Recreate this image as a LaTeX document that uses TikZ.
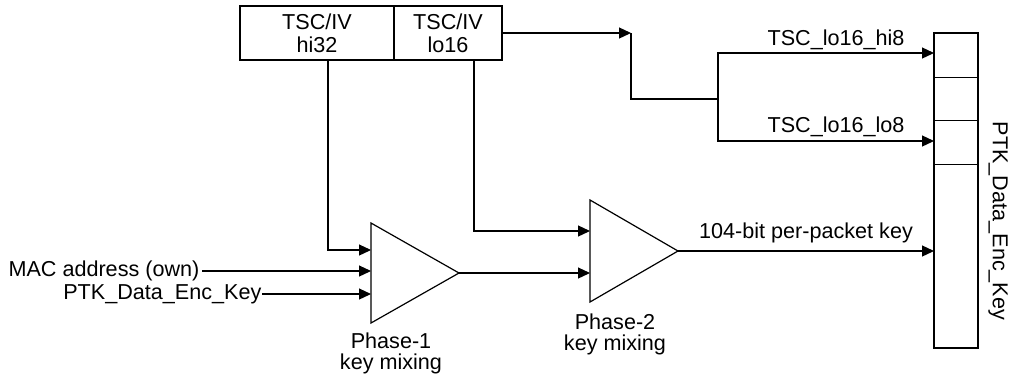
\documentclass[tikz,border=0pt]{standalone}
\usepackage{fontspec}
\setmainfont{Liberation Sans}
\usetikzlibrary{arrows.meta,calc}
\begin{document}
\begin{tikzpicture}[x=1pt,y=-1pt,
  line width=1.2pt,
  arr/.style={-{Triangle[length=12pt,width=11pt]}},
  box/.style={draw,rectangle,inner sep=0pt,outer sep=0pt,align=center},
  lbl/.style={inner sep=0pt,font=\fontsize{21.6}{23}\selectfont},
  hid/.style={inner sep=0pt,outer sep=0pt}]
\useasboundingbox (0,0) rectangle (1016,376);
% top box
\node[box,minimum width=154pt,minimum height=54pt,font=\fontsize{21.6}{23}\selectfont] (hi) at (317,33) {TSC/IV\\hi32};
\node[box,minimum width=108pt,minimum height=54pt,font=\fontsize{21.6}{23}\selectfont] (lo) at (448,33) {TSC/IV\\lo16};
% key box
\node[box,minimum width=44pt,minimum height=315pt] (kb) at (956,190.5) {};
\draw[line width=1pt] (kb.west |- 0,77) -- (kb.east |- 0,77);
\draw[line width=1pt] (kb.west |- 0,120) -- (kb.east |- 0,120);
\draw[line width=1pt] (kb.west |- 0,164) -- (kb.east |- 0,164);
\node[lbl,rotate=-90] (kbl) at (998,221) {PTK\_Data\_Enc\_Key};
% triangles
\node[hid,minimum width=88pt,minimum height=100pt] (p1) at (415,273) {};
\draw (p1.north west) -- (p1.east) -- (p1.south west) -- cycle;
\node[hid,minimum width=88pt,minimum height=102pt] (p2) at (634,251) {};
\draw (p2.north west) -- (p2.east) -- (p2.south west) -- cycle;
\node[lbl,align=center,font=\fontsize{21.6}{21}\selectfont] (p1l) at (391,353) {Phase-1\\key mixing};
\node[lbl,align=center,font=\fontsize{21.6}{21}\selectfont] (p2l) at (615,334) {Phase-2\\key mixing};
% inputs
\node[lbl,anchor=east,inner xsep=2pt] (mac) at (202,271) {MAC address (own)};
\node[lbl,anchor=east] (ptk) at (262,294) {PTK\_Data\_Enc\_Key};
\draw[arr] (mac.east) -- (p1.west |- mac.east);
\draw[arr] (ptk.east) -- (p1.west |- ptk.east);
\draw[arr] ([xshift=11pt]hi.south) |- (p1.west |- 0,250);
\draw[arr] ([xshift=26pt]lo.south) |- (p2.west |- 0,231);
\draw[arr] (p1.east) -- (p2.west |- p1.east);
\draw[arr] (p2.east) -- (kb.west |- p2.east) node[lbl,midway,above=7pt] (ppk) {104-bit per-packet key};
% TSC lo16 split
\coordinate (bend) at (631,33);
\coordinate (split) at (718,99);
\draw[arr] (lo.east) -- (bend);
\draw (bend) |- (split);
\draw[arr] (split) |- (kb.west |- 0,53);
\draw[arr] (split) |- (kb.west |- 0,141);
\node[lbl] (hi8) at (836,40) {TSC\_lo16\_hi8};
\node[lbl] (lo8) at (836,127) {TSC\_lo16\_lo8};
\end{tikzpicture}
\end{document}
